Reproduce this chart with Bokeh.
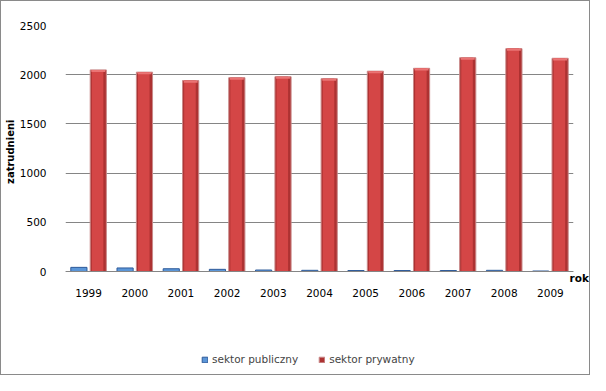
from bokeh.plotting import figure
from bokeh.models import (ColumnDataSource, FactorRange, Range1d, Legend, LegendItem,
                          LinearAxis, FixedTicker, Title)
from bokeh.transform import dodge
from bokeh.embed import file_html
from bokeh.resources import INLINE

years = ["1999", "2000", "2001", "2002", "2003", "2004", "2005", "2006", "2007", "2008", "2009"]
publiczny = [42, 36, 28, 22, 15, 12, 10, 10, 10, 12, 5]
prywatny = [2049, 2026, 1941, 1970, 1980, 1960, 2036, 2065, 2173, 2265, 2167]
y_ticks = [0, 500, 1000, 1500, 2000, 2500]

src = ColumnDataSource(data=dict(years=years, publiczny=publiczny, prywatny=prywatny,
                                 cap=[v - 22 for v in prywatny]))

FONT = "DejaVu Sans"
Y_BOTTOM = -1067   # extra room below the value axis for the legend
ROK_Y = -70        # position of the "rok" caption just below the category axis

p = figure(x_range=FactorRange(*years, range_padding=0), y_range=Range1d(Y_BOTTOM, 2500),
           width=590, height=375, output_backend="svg", toolbar_location=None,
           min_border_left=56, min_border_right=0, min_border_top=24, min_border_bottom=0)
p.outline_line_color = None
p.styles = {"border": "1px solid #8a8a8a"}

blue = p.vbar(x=dodge("years", -0.21, range=p.x_range), top="publiczny", width=0.35, source=src,
              fill_color="#5b96d8", line_color="#2f5b9a", line_width=1)
red = p.vbar(x=dodge("years", 0.21, range=p.x_range), top="prywatny", width=0.35, source=src,
             fill_color="#ad3232", line_color="#c98a8a", line_width=1)
p.vbar(x=dodge("years", 0.195, range=p.x_range), top="prywatny", width=0.25, source=src,
       fill_color="#d44646", line_color=None)
p.vbar(x=dodge("years", 0.21, range=p.x_range), bottom="cap", top="prywatny", width=0.3, source=src,
       fill_color="#ea7474", line_color=None)

p.xgrid.grid_line_color = None
p.ygrid.grid_line_color = "#858585"
p.ygrid.grid_line_width = 1

p.yaxis.ticker = y_ticks
p.yaxis.bounds = (0, 2500)
p.yaxis.axis_line_color = None
p.yaxis.major_tick_line_color = None
p.yaxis.minor_tick_line_color = None
p.yaxis.major_label_standoff = 13

p.xaxis.fixed_location = 0
p.xaxis.axis_line_color = "#858585"
p.xaxis.major_tick_line_color = None
p.xaxis.minor_tick_line_color = None
p.xaxis.major_label_standoff = 11

for ax in (p.xaxis, p.yaxis):
    ax.major_label_text_font = FONT
    ax.major_label_text_font_size = "10.5px"
    ax.major_label_text_color = "black"

p.add_layout(Title(text="zatrudnieni", align="right", offset=94, standoff=2,
                   text_font=FONT, text_font_size="10px", text_font_style="bold",
                   text_color="black"), "left")

rok_axis = LinearAxis(ticker=FixedTicker(ticks=[ROK_Y]), major_label_overrides={ROK_Y: "rok"},
                      axis_line_color=None, major_tick_line_color=None, minor_tick_line_color=None,
                      major_label_standoff=-10, major_label_text_font=FONT,
                      major_label_text_font_size="10.5px", major_label_text_font_style="bold",
                      major_label_text_color="black")
p.add_layout(rok_axis, "right")

legend = Legend(items=[LegendItem(label="sektor publiczny", renderers=[blue]),
                       LegendItem(label="sektor prywatny", renderers=[red])],
                orientation="horizontal", location=(136, 11), padding=0, margin=0,
                spacing=20, glyph_width=7, glyph_height=7, label_standoff=4,
                label_text_font=FONT, label_text_font_size="10.5px",
                border_line_color=None, background_fill_alpha=0)
p.add_layout(legend, "center")

open("out.html", "w").write(file_html(p, INLINE))
